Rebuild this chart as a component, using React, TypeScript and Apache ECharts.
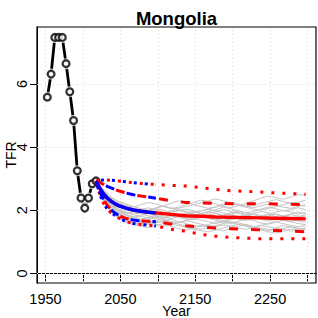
import React, { useEffect, useRef } from "react";
import * as echarts from "echarts";

// ---- data ----
const histYears = [1952.5, 1957.5, 1962.5, 1967.5, 1972.5, 1977.5, 1982.5, 1987.5, 1992.5, 1997.5, 2002.5, 2007.5, 2012.5, 2017.5];
const histTFR = [5.58, 6.31, 7.47, 7.47, 7.47, 6.64, 5.75, 4.84, 3.25, 2.39, 2.07, 2.39, 2.84, 2.93];

const projYears = [2017.5, 2022.5, 2027.5, 2032.5, 2037.5, 2042.5, 2047.5, 2057.5, 2067.5, 2077.5, 2087.5, 2097.5, 2117.5, 2137.5, 2157.5, 2177.5, 2197.5, 2217.5, 2237.5, 2257.5, 2277.5, 2297.5];
const medianTFR = [2.93, 2.7, 2.52, 2.39, 2.29, 2.21, 2.15, 2.07, 2.01, 1.97, 1.94, 1.92, 1.87, 1.83, 1.81, 1.79, 1.78, 1.77, 1.76, 1.75, 1.74, 1.73];
const upper80 = [2.93, 2.88, 2.82, 2.76, 2.71, 2.66, 2.62, 2.55, 2.49, 2.45, 2.42, 2.38, 2.3, 2.25, 2.23, 2.22, 2.21, 2.21, 2.21, 2.2, 2.19, 2.18];
const lower80 = [2.93, 2.58, 2.35, 2.16, 2.02, 1.92, 1.84, 1.74, 1.69, 1.66, 1.65, 1.64, 1.57, 1.51, 1.47, 1.44, 1.42, 1.4, 1.38, 1.36, 1.34, 1.32];
const upper95 = [2.93, 2.95, 2.96, 2.96, 2.95, 2.94, 2.93, 2.9, 2.87, 2.85, 2.83, 2.82, 2.79, 2.77, 2.72, 2.66, 2.62, 2.6, 2.58, 2.55, 2.53, 2.51];
const lower95 = [2.93, 2.5, 2.22, 2.05, 1.92, 1.85, 1.76, 1.64, 1.58, 1.55, 1.53, 1.5, 1.4, 1.34, 1.24, 1.18, 1.14, 1.12, 1.1, 1.1, 1.1, 1.1];
const blueCount = 12; // blue projection shown up to 2097.5

const trajYears = [2017.5, 2027.5, 2037.5, 2047.5, 2057.5, 2067.5, 2077.5, 2087.5, 2097.5, 2107.5, 2117.5, 2127.5, 2137.5, 2147.5, 2157.5, 2167.5, 2177.5, 2187.5, 2197.5, 2207.5, 2217.5, 2227.5, 2237.5, 2247.5, 2257.5, 2267.5, 2277.5, 2287.5, 2297.5];
const trajectories = [
  [2.93, 2.45, 2.15, 1.98, 1.85, 1.8, 1.72, 1.78, 1.85, 1.92, 1.88, 1.8, 1.74, 1.7, 1.78, 1.85, 1.9, 1.83, 1.76, 1.72, 1.68, 1.75, 1.82, 1.88, 1.8, 1.73, 1.7, 1.76, 1.82],
  [2.93, 2.6, 2.38, 2.25, 2.15, 2.1, 2.18, 2.25, 2.2, 2.12, 2.05, 2.1, 2.18, 2.25, 2.32, 2.28, 2.2, 2.12, 2.08, 2.15, 2.22, 2.3, 2.38, 2.45, 2.4, 2.35, 2.42, 2.5, 2.47],
  [2.93, 2.3, 1.95, 1.75, 1.62, 1.55, 1.5, 1.45, 1.52, 1.58, 1.5, 1.42, 1.38, 1.45, 1.52, 1.48, 1.4, 1.35, 1.42, 1.5, 1.56, 1.48, 1.4, 1.36, 1.44, 1.52, 1.47, 1.4, 1.45],
  [2.93, 2.5, 2.25, 2.05, 1.95, 1.88, 1.92, 1.98, 2.05, 2.0, 1.92, 1.85, 1.9, 1.96, 1.9, 1.82, 1.78, 1.85, 1.92, 1.98, 1.92, 1.86, 1.8, 1.86, 1.94, 2.0, 1.95, 1.88, 1.92],
  [2.93, 2.4, 2.05, 1.85, 1.72, 1.68, 1.62, 1.7, 1.78, 1.72, 1.65, 1.6, 1.66, 1.74, 1.8, 1.75, 1.68, 1.62, 1.58, 1.65, 1.72, 1.68, 1.6, 1.56, 1.62, 1.7, 1.64, 1.58, 1.55],
  [2.93, 2.55, 2.3, 2.12, 2.02, 1.95, 1.88, 1.82, 1.78, 1.84, 1.92, 1.98, 2.04, 1.98, 1.9, 1.95, 2.02, 2.1, 2.05, 1.98, 1.92, 1.96, 2.04, 2.1, 2.05, 1.98, 2.02, 2.08, 2.02],
  [2.93, 2.35, 2.0, 1.82, 1.7, 1.62, 1.58, 1.55, 1.6, 1.66, 1.72, 1.65, 1.58, 1.52, 1.48, 1.55, 1.62, 1.68, 1.62, 1.55, 1.5, 1.46, 1.52, 1.58, 1.64, 1.58, 1.52, 1.48, 1.52],
  [2.93, 2.52, 2.2, 2.0, 1.9, 1.95, 2.02, 2.08, 2.0, 1.94, 1.88, 1.82, 1.78, 1.84, 1.9, 1.96, 1.9, 1.84, 1.88, 1.94, 1.86, 1.8, 1.76, 1.82, 1.88, 1.82, 1.76, 1.8, 1.86],
  [2.93, 2.42, 2.12, 1.92, 1.8, 1.72, 1.66, 1.62, 1.68, 1.74, 1.8, 1.86, 1.8, 1.74, 1.7, 1.64, 1.58, 1.64, 1.7, 1.76, 1.82, 1.78, 1.72, 1.66, 1.7, 1.76, 1.72, 1.66, 1.62],
  [2.93, 2.65, 2.42, 2.28, 2.2, 2.12, 2.05, 2.0, 2.06, 2.14, 2.22, 2.3, 2.26, 2.18, 2.12, 2.06, 2.12, 2.2, 2.26, 2.2, 2.14, 2.08, 2.14, 2.2, 2.16, 2.1, 2.06, 2.12, 2.18],
  [2.93, 2.38, 2.02, 1.8, 1.66, 1.58, 1.52, 1.56, 1.62, 1.68, 1.62, 1.56, 1.5, 1.44, 1.4, 1.46, 1.52, 1.58, 1.64, 1.6, 1.54, 1.48, 1.44, 1.4, 1.36, 1.42, 1.48, 1.44, 1.38],
  [2.93, 2.48, 2.18, 1.98, 1.86, 1.78, 1.84, 1.9, 1.84, 1.78, 1.74, 1.8, 1.86, 1.92, 1.98, 2.04, 1.98, 1.92, 1.86, 1.8, 1.84, 1.9, 1.96, 1.92, 1.86, 1.82, 1.88, 1.94, 1.9],
  [2.93, 2.58, 2.32, 2.15, 2.04, 1.98, 1.94, 2.0, 2.08, 2.14, 2.08, 2.02, 1.96, 1.92, 1.98, 2.04, 2.1, 2.16, 2.22, 2.16, 2.1, 2.04, 2.0, 2.06, 2.12, 2.18, 2.24, 2.18, 2.12],
  [2.93, 2.44, 2.1, 1.9, 1.78, 1.7, 1.64, 1.6, 1.56, 1.5, 1.56, 1.62, 1.68, 1.62, 1.56, 1.52, 1.48, 1.54, 1.5, 1.44, 1.4, 1.46, 1.52, 1.48, 1.44, 1.4, 1.34, 1.38, 1.42],
  [2.93, 2.62, 2.4, 2.22, 2.1, 2.02, 1.96, 1.9, 1.86, 1.9, 1.98, 2.06, 2.12, 2.18, 2.24, 2.3, 2.36, 2.3, 2.24, 2.18, 2.12, 2.16, 2.22, 2.28, 2.34, 2.28, 2.22, 2.26, 2.32],
  [2.93, 2.33, 1.98, 1.78, 1.66, 1.6, 1.56, 1.6, 1.66, 1.62, 1.56, 1.52, 1.46, 1.4, 1.36, 1.32, 1.38, 1.44, 1.5, 1.56, 1.5, 1.44, 1.38, 1.32, 1.28, 1.34, 1.4, 1.36, 1.3],
  [2.93, 2.5, 2.2, 2.02, 1.92, 1.86, 1.8, 1.76, 1.72, 1.78, 1.84, 1.78, 1.72, 1.78, 1.84, 1.9, 1.96, 2.02, 1.96, 1.9, 1.86, 1.8, 1.74, 1.7, 1.74, 1.8, 1.86, 1.82, 1.76],
  [2.93, 2.46, 2.16, 1.96, 1.84, 1.76, 1.7, 1.74, 1.8, 1.86, 1.94, 2.0, 1.94, 1.88, 1.84, 1.78, 1.72, 1.68, 1.72, 1.78, 1.84, 1.9, 1.84, 1.78, 1.74, 1.68, 1.64, 1.7, 1.74],
];

const xTicks = [1950, 2000, 2050, 2100, 2150, 2200, 2250, 2300];
const xLabels = [1950, 2050, 2150, 2250];
const yTicks = [0, 2, 4, 6];

const FONT = "'Liberation Sans', Arial, Helvetica, sans-serif";
const RED = "#ff0000";
const BLUE = "#0000ff";

const zip = (xs: number[], ys: number[]) => ys.map((y, i) => [xs[i], y]);

function buildOption() {
  const series: any[] = [];

  trajectories.forEach((t, i) => {
    const s: any = {
      type: "line",
      data: zip(trajYears, t),
      showSymbol: false,
      symbol: "none",
      lineStyle: { color: "#c4c4c4", width: 1 },
      z: 2,
      silent: true,
    };
    if (i === 0) {
      s.markLine = {
        silent: true,
        symbol: ["none", "none"],
        label: { show: false },
        lineStyle: { color: "#d3d3d3", type: [1, 3], width: 1 },
        data: [
          ...xTicks.map((v) => ({ xAxis: v })),
          ...yTicks.map((v) => ({ yAxis: v })),
        ],
        z: 1,
      };
    }
    series.push(s);
  });

  const hist = zip(histYears, histTFR);
  series.push({
    type: "line",
    data: hist,
    showSymbol: false,
    symbol: "none",
    lineStyle: { color: "#000", width: 2.8 },
    z: 3,
  });
  series.push({
    type: "scatter",
    data: hist,
    symbol: "circle",
    symbolSize: 11,
    itemStyle: { color: "#fff" },
    z: 4,
    silent: true,
  });
  series.push({
    type: "scatter",
    data: hist,
    symbol: "circle",
    symbolSize: 6.8,
    itemStyle: { color: "#fff", borderColor: "#000", borderWidth: 2.3 },
    z: 5,
  });

  const addSet = (color: string, count: number, z: number, offset: boolean) => {
    const yrs = projYears.slice(0, count);
    const mk = (vals: number[], type: any, width: number, dashOffset: number) => ({
      type: "line",
      data: zip(yrs, vals.slice(0, count)),
      showSymbol: false,
      symbol: "none",
      lineStyle: { color, width, type, dashOffset },
      z,
    });
    series.push(mk(medianTFR, "solid", 3.4, 0));
    series.push(mk(upper80, [9, 13], 3, offset ? 11 : 0));
    series.push(mk(lower80, [9, 13], 3, offset ? 11 : 0));
    series.push(mk(upper95, [3, 8], 3, offset ? 5.5 : 0));
    series.push(mk(lower95, [3, 8], 3, offset ? 5.5 : 0));
  };
  addSet(RED, projYears.length, 6, false);
  addSet(BLUE, blueCount, 7, true);

  return {
    animation: false,
    backgroundColor: "#fff",
    textStyle: { fontFamily: FONT },
    grid: {
      left: 37,
      right: 2,
      top: 27,
      bottom: 35,
      show: true,
      containLabel: false,
      outerBoundsMode: "none",
      borderColor: "#000",
      borderWidth: 1.2,
      backgroundColor: "transparent",
    },
    xAxis: {
      type: "value",
      min: 1938.7,
      max: 2311.3,
      name: "Year",
      nameLocation: "middle",
      nameGap: 21,
      nameMoveOverlap: false,
      nameTextStyle: { fontSize: 14, color: "#000", fontFamily: FONT },
      axisLine: { show: true, lineStyle: { color: "#000", width: 1 } },
      splitLine: { show: false },
      axisTick: {
        show: true,
        inside: false,
        length: 8,
        customValues: xTicks,
        lineStyle: { color: "#000", width: 1 },
      },
      axisLabel: {
        show: true,
        customValues: xLabels,
        formatter: (v: number) => String(v),
        margin: 8,
        fontSize: 14.5,
        color: "#000",
        fontFamily: FONT,
      },
    },
    yAxis: {
      type: "value",
      min: -0.3,
      max: 7.8,
      name: "TFR",
      nameLocation: "middle",
      nameGap: 19,
      nameMoveOverlap: false,
      nameRotate: 90,
      nameTextStyle: { fontSize: 14, color: "#000", fontFamily: FONT },
      axisLine: { show: true, lineStyle: { color: "#000", width: 1 } },
      splitLine: { show: false },
      axisTick: {
        show: true,
        inside: false,
        length: 7,
        customValues: yTicks,
        lineStyle: { color: "#000", width: 1 },
      },
      axisLabel: {
        show: true,
        customValues: yTicks,
        formatter: (v: number) => String(v),
        rotate: 90,
        align: "center",
        verticalAlign: "bottom",
        margin: 8,
        fontSize: 14.5,
        color: "#000",
        fontFamily: FONT,
      },
    },
    graphic: [
      {
        type: "text",
        x: 176.5,
        y: 18.5,
        style: {
          text: "Mongolia",
          fontSize: 18.5,
          fontWeight: "bold",
          fontFamily: FONT,
          fill: "#000",
          textAlign: "center",
          textVerticalAlign: "middle",
        },
      },
    ],
    series,
  };
}

export default function App() {
  const ref = useRef<HTMLDivElement>(null);
  useEffect(() => {
    if (!ref.current) return;
    const chart = echarts.init(ref.current, null, { renderer: "svg" });
    chart.setOption(buildOption() as any);
    return () => chart.dispose();
  }, []);
  return (
    <div
      ref={ref}
      style={{ position: "fixed", left: 0, top: 0, width: 318, height: 318, background: "#fff" }}
    />
  );
}
